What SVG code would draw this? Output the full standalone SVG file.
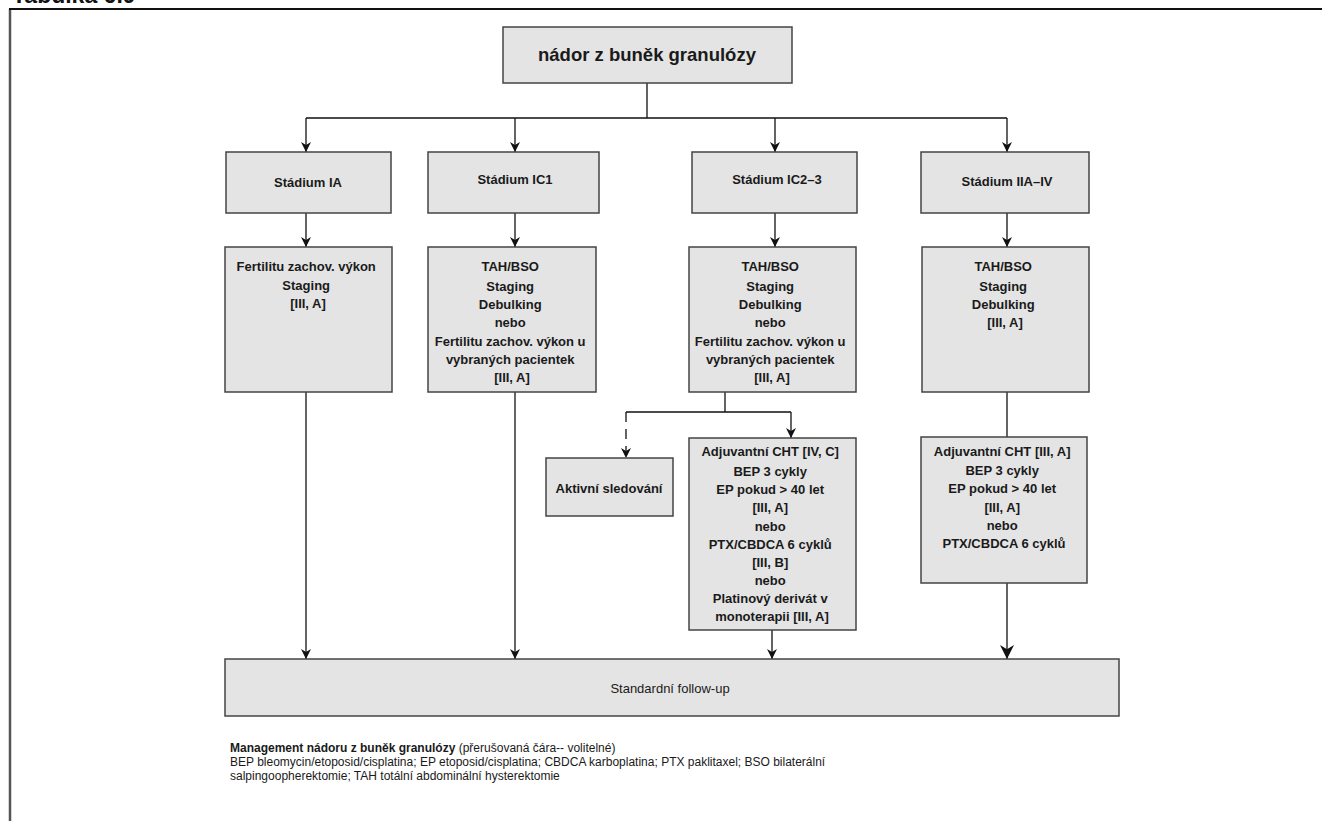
<svg xmlns="http://www.w3.org/2000/svg" width="1322" height="821" viewBox="0 0 1322 821">
  <defs>
    <marker id="arr" viewBox="0 0 10 10" refX="10" refY="5" markerWidth="12" markerHeight="10" markerUnits="userSpaceOnUse" orient="auto">
      <path d="M0,0 L10,5 L0,10 L3,5 z" fill="#111"/>
    </marker>
    <marker id="arrBig" viewBox="0 0 10 10" refX="10" refY="5" markerWidth="18" markerHeight="14" markerUnits="userSpaceOnUse" orient="auto">
      <path d="M0,0 L10,5 L0,10 L3,5 z" fill="#111"/>
    </marker>
  </defs>
  <style>
    .box { fill: #e4e4e4; stroke: #444; stroke-width: 1.5; }
    .t { font-family: "Liberation Sans", Arial, sans-serif; font-size: 13px; font-weight: bold; fill: #1a1a1a; text-anchor: middle; }
    .title { font-family: "Liberation Sans", Arial, sans-serif; font-size: 18.5px; font-weight: bold; fill: #1a1a1a; text-anchor: middle; }
    .plain { font-family: "Liberation Sans", Arial, sans-serif; font-size: 13px; fill: #1a1a1a; text-anchor: middle; }
    .ln { fill: none; stroke: #111; stroke-width: 1.3; }
    .note { font-family: "Liberation Sans", Arial, sans-serif; font-size: 12px; fill: #1a1a1a; }
  </style>

  <rect width="1322" height="821" fill="#fff"/>

  <!-- page heading, clipped by the top edge -->
  <text x="12" y="2.5" font-family="Liberation Sans, Arial, sans-serif" font-size="23px" font-weight="bold" fill="#111">Tabulka 6.9</text>

  <!-- frame -->
  <path d="M10,821 V9" fill="none" stroke="#555" stroke-width="2.5"/>
  <path d="M9,9 H1322" fill="none" stroke="#111" stroke-width="2"/>

  <!-- connectors -->
  <g id="connectors">
    <path class="ln" d="M647,83 V118 M306,118 H1007"/>
    <path class="ln" marker-end="url(#arr)" d="M306,118 V152"/>
    <path class="ln" marker-end="url(#arr)" d="M515,118 V152"/>
    <path class="ln" marker-end="url(#arr)" d="M775,118 V152"/>
    <path class="ln" marker-end="url(#arr)" d="M1007,118 V152"/>

    <path class="ln" marker-end="url(#arr)" d="M306,213 V247"/>
    <path class="ln" marker-end="url(#arr)" d="M515,213 V247"/>
    <path class="ln" marker-end="url(#arr)" d="M775,213 V247"/>
    <path class="ln" marker-end="url(#arr)" d="M1007,213 V247"/>

    <path class="ln" marker-end="url(#arr)" d="M306,392 V659"/>
    <path class="ln" marker-end="url(#arr)" d="M515,392 V659"/>

    <path class="ln" d="M725,392 V412 M626,412 H791"/>
    <path class="ln" marker-end="url(#arr)" d="M791,412 V438"/>
    <path class="ln" stroke-dasharray="10 7" marker-end="url(#arr)" d="M626,412 V458"/>
    <path class="ln" marker-end="url(#arr)" d="M772,630 V659"/>

    <path class="ln" d="M1007,392 V437"/>
    <path class="ln" stroke-width="2" marker-end="url(#arrBig)" d="M1007,583 V659"/>
  </g>

  <g id="root">
    <rect class="box" x="503" y="27" width="289" height="56"/>
    <text class="title" x="647" y="61">nádor z buněk granulózy</text>
  </g>

  <g id="stage-ia">
    <rect class="box" x="226" y="152" width="165" height="61"/>
    <text class="t" x="308" y="187">Stádium IA</text>
  </g>
  <g id="stage-ic1">
    <rect class="box" x="428" y="152" width="171" height="61"/>
    <text class="t" x="515" y="184">Stádium IC1</text>
  </g>
  <g id="stage-ic2-3">
    <rect class="box" x="692" y="152" width="165" height="61"/>
    <text class="t" x="777" y="184">Stádium IC2–3</text>
  </g>
  <g id="stage-iia-iv">
    <rect class="box" x="921" y="152" width="168" height="61"/>
    <text class="t" x="1007" y="186">Stádium IIA–IV</text>
  </g>

  <g id="surgery-ia">
    <rect class="box" x="225" y="247" width="167" height="145"/>
    <text class="t" x="308">
      <tspan x="308" y="271">Fertilitu zachov. výkon</tspan>
      <tspan x="308" y="290">Staging</tspan>
      <tspan x="308" y="308">[III, A]</tspan>
    </text>
  </g>

  <g id="surgery-ic1">
    <rect class="box" x="428" y="247" width="168" height="145"/>
    <text class="t">
      <tspan x="512" y="271">TAH/BSO</tspan>
      <tspan x="512" y="291">Staging</tspan>
      <tspan x="512" y="309">Debulking</tspan>
      <tspan x="512" y="327">nebo</tspan>
      <tspan x="512" y="346">Fertilitu zachov. výkon u</tspan>
      <tspan x="512" y="364">vybraných pacientek</tspan>
      <tspan x="512" y="382">[III, A]</tspan>
    </text>
  </g>

  <g id="surgery-ic2-3">
    <rect class="box" x="689" y="247" width="167" height="145"/>
    <text class="t">
      <tspan x="772" y="271">TAH/BSO</tspan>
      <tspan x="772" y="291">Staging</tspan>
      <tspan x="772" y="309">Debulking</tspan>
      <tspan x="772" y="327">nebo</tspan>
      <tspan x="772" y="346">Fertilitu zachov. výkon u</tspan>
      <tspan x="772" y="364">vybraných pacientek</tspan>
      <tspan x="772" y="382">[III, A]</tspan>
    </text>
  </g>

  <g id="surgery-iia-iv">
    <rect class="box" x="922" y="247" width="167" height="145"/>
    <text class="t">
      <tspan x="1005" y="271">TAH/BSO</tspan>
      <tspan x="1005" y="291">Staging</tspan>
      <tspan x="1005" y="309">Debulking</tspan>
      <tspan x="1005" y="327">[III, A]</tspan>
    </text>
  </g>

  <g id="surveillance">
    <rect class="box" x="546" y="458" width="127" height="58"/>
    <text class="t" x="609" y="493">Aktivní sledování</text>
  </g>

  <g id="adjuvant-ic2-3">
    <rect class="box" x="689" y="438" width="167" height="192"/>
    <text class="t">
      <tspan x="772" y="456">Adjuvantní CHT [IV, C]</tspan>
      <tspan x="772" y="476">BEP 3 cykly</tspan>
      <tspan x="772" y="494">EP pokud &gt; 40 let</tspan>
      <tspan x="772" y="512">[III, A]</tspan>
      <tspan x="772" y="531">nebo</tspan>
      <tspan x="772" y="549">PTX/CBDCA 6 cyklů</tspan>
      <tspan x="772" y="567">[III, B]</tspan>
      <tspan x="772" y="585">nebo</tspan>
      <tspan x="772" y="603">Platinový derivát v</tspan>
      <tspan x="772" y="621">monoterapii [III, A]</tspan>
    </text>
  </g>

  <g id="adjuvant-iia-iv">
    <rect class="box" x="921" y="437" width="166" height="146"/>
    <text class="t">
      <tspan x="1004" y="456">Adjuvantní CHT [III, A]</tspan>
      <tspan x="1004" y="475">BEP 3 cykly</tspan>
      <tspan x="1004" y="493">EP pokud &gt; 40 let</tspan>
      <tspan x="1004" y="512">[III, A]</tspan>
      <tspan x="1004" y="530">nebo</tspan>
      <tspan x="1004" y="548">PTX/CBDCA 6 cyklů</tspan>
    </text>
  </g>

  <g id="follow-up">
    <rect class="box" x="225" y="659" width="894" height="57"/>
    <text class="plain" x="670" y="693">Standardní follow-up</text>
  </g>

  <!-- legend -->
  <g id="legend">
    <text class="note" x="230" y="752"><tspan font-weight="bold">Management nádoru z buněk granulózy</tspan> (přerušovaná čára-- volitelné)</text>
    <text class="note" x="230" y="766">BEP bleomycin/etoposid/cisplatina; EP etoposid/cisplatina; CBDCA karboplatina; PTX paklitaxel; BSO bilaterální</text>
    <text class="note" x="230" y="780">salpingoopherektomie; TAH totální abdominální hysterektomie</text>
  </g>
</svg>
